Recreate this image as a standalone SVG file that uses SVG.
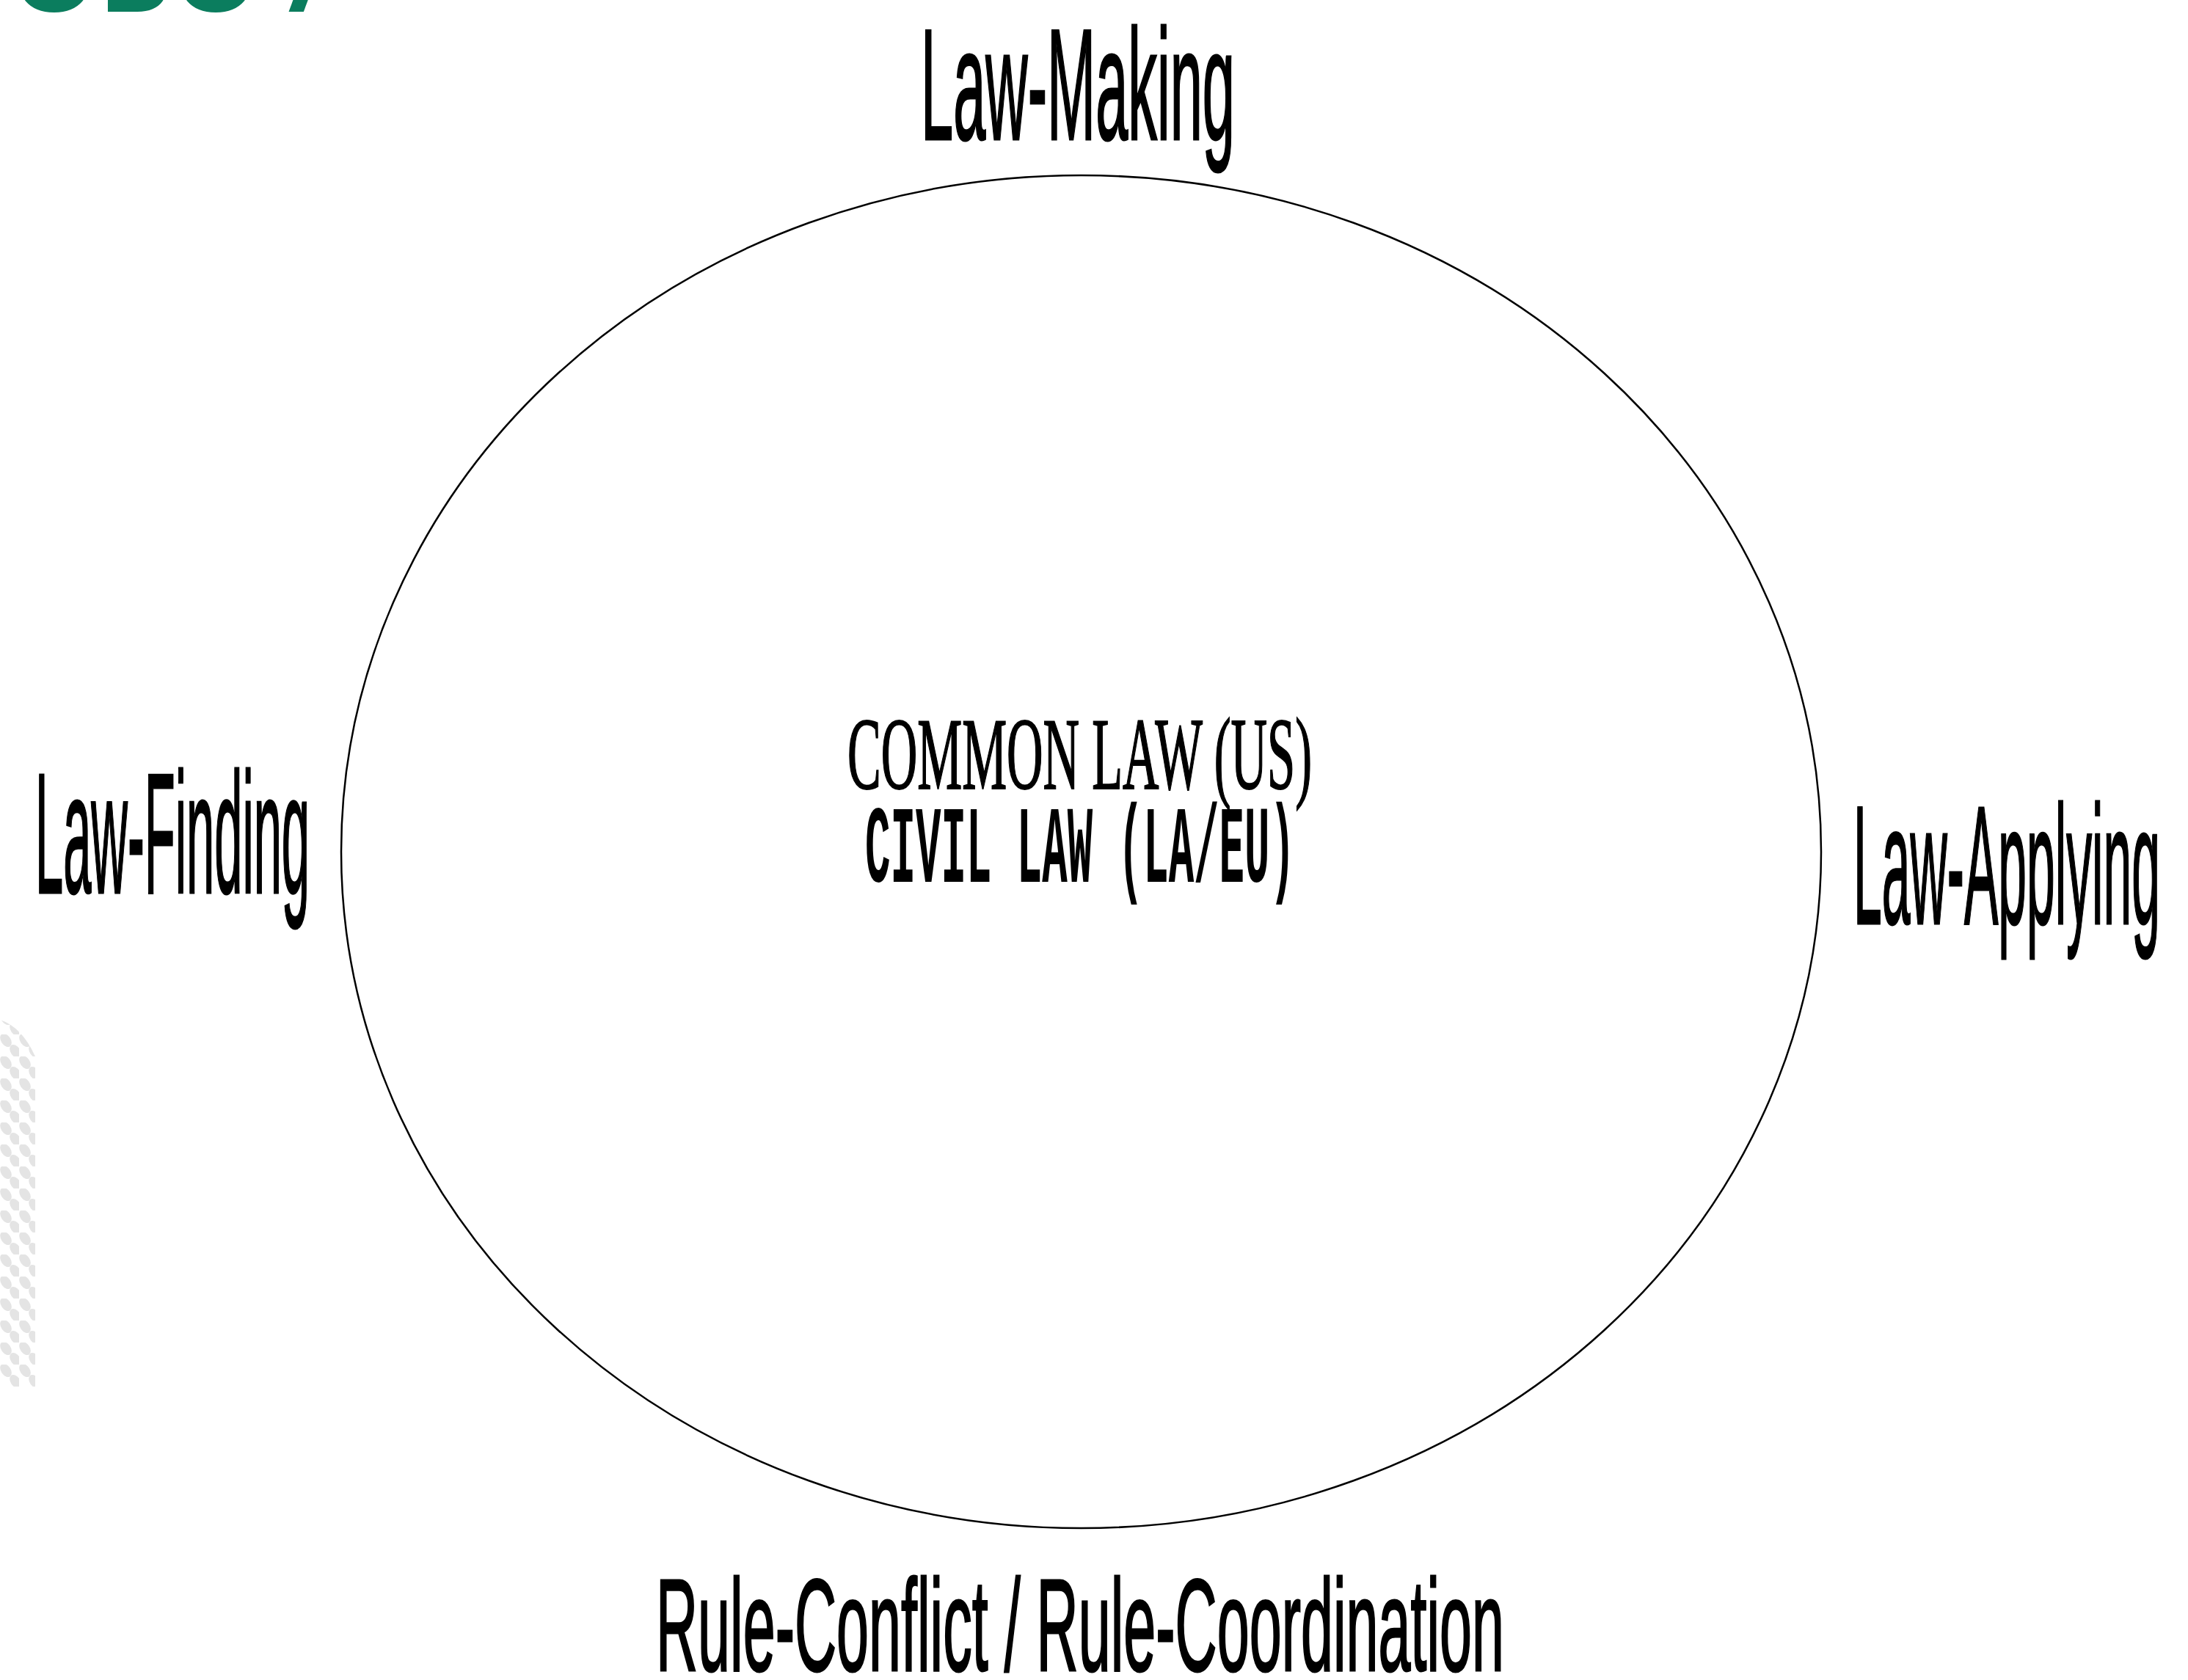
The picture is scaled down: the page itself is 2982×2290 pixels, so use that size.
<svg xmlns="http://www.w3.org/2000/svg" width="2982" height="2290" viewBox="0 0 2982 2290">
  <style>
    .lbl { font-family: "Liberation Sans", Arial, sans-serif; fill: #000; stroke: #000; stroke-width: 3; }
    .ser { font-family: "Liberation Serif", "Times New Roman", serif; fill: #000; stroke: #000; stroke-width: 2; }
    .mono { font-family: "Liberation Mono", "Courier New", monospace; font-weight: bold; fill: #000; }
    .title { font-family: "Open Sans", "Liberation Sans", sans-serif; font-weight: bold; fill: #0b7d5e; }
  </style>
  <defs>
    <pattern id="dots" x="0" y="0" width="26" height="30" patternUnits="userSpaceOnUse">
      <ellipse cx="8" cy="8" rx="10" ry="6.5" transform="rotate(55 8 8)" fill="#e4e4e4"/>
      <ellipse cx="21" cy="23" rx="10" ry="6.5" transform="rotate(55 21 23)" fill="#e4e4e4"/>
    </pattern>
    <mask id="dotmask">
      <path d="M0,1390 Q30,1400 48,1440 L48,1890 L0,1890 Z" fill="#fff"/>
    </mask>
  </defs>
  <rect width="2982" height="2290" fill="#fff"/>
  <g id="decor">
    <rect x="0" y="1380" width="50" height="520" fill="url(#dots)" mask="url(#dotmask)"/>
  </g>
  <g id="title">
    <text class="title" x="14" y="16" font-size="150">OBO /</text>
  </g>
  <g id="connectors"></g>
  <g id="cycle">
    <ellipse cx="1473.5" cy="1161" rx="1008.5" ry="922" fill="none" stroke="#000" stroke-width="2.5"/>
  </g>
  <g id="center">
    <text class="ser" x="1155" y="1075" font-size="139" textLength="633" lengthAdjust="spacingAndGlyphs">COMMON LAW (US)</text>
    <text class="mono" x="1179" y="1202" font-size="150" textLength="586" lengthAdjust="spacingAndGlyphs">CIVIL LAW (LA/EU)</text>
  </g>
  <g id="law-making">
    <text class="lbl" x="1255" y="190" font-size="215" textLength="428" lengthAdjust="spacingAndGlyphs">Law-Making</text>
  </g>
  <g id="law-finding">
    <text class="lbl" x="48" y="1217" font-size="233" textLength="374" lengthAdjust="spacingAndGlyphs">Law-Finding</text>
  </g>
  <g id="law-applying">
    <text class="lbl" x="2526" y="1259" font-size="230" textLength="418" lengthAdjust="spacingAndGlyphs">Law-Applying</text>
  </g>
  <g id="rule">
    <text class="lbl" x="894" y="2277" font-size="179" textLength="1156" lengthAdjust="spacingAndGlyphs">Rule-Conflict / Rule-Coordination</text>
  </g>
</svg>
